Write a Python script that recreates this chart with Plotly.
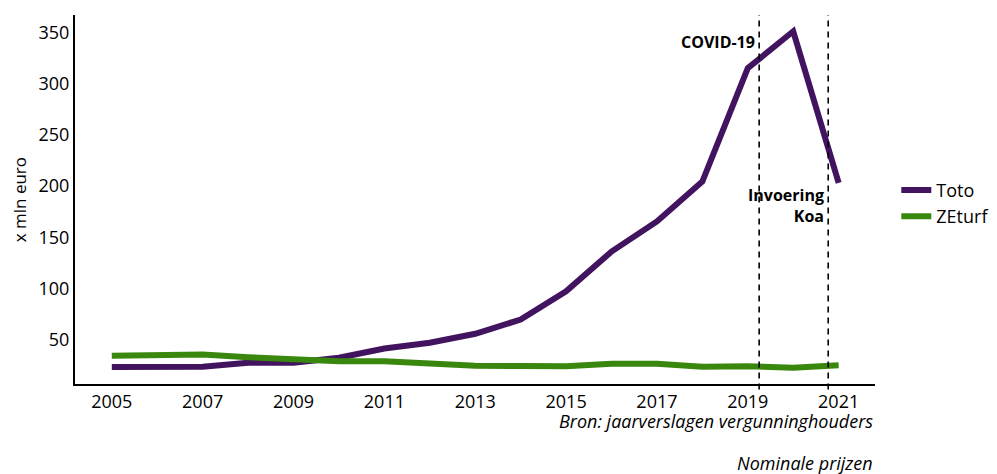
import plotly.graph_objects as go

years = list(range(2005, 2022))
toto = [23.3, 24, 23.6, 27.5, 27.5, 32.4, 41.5, 47, 55.8, 69.7, 97.3, 136, 165.4, 204.4, 315, 351, 203]
zeturf = [34.4, 35, 35.6, 33, 30.8, 29.1, 29, 26.6, 24.6, 24.3, 24.2, 26.6, 26.6, 23.6, 24, 22.7, 25.2]
event_x = [2019.25, 2020.77]
yticks = [50, 100, 150, 200, 250, 300, 350]
xticks = [2005, 2007, 2009, 2011, 2013, 2015, 2017, 2019, 2021]

FONT = "Open Sans"
fig = go.Figure()
fig.add_trace(go.Scatter(x=years, y=toto, mode="lines", name="Toto",
                         line=dict(color="#42145f", width=6)))
fig.add_trace(go.Scatter(x=years, y=zeturf, mode="lines", name="ZEturf",
                         line=dict(color="#39870c", width=6)))

for ex in event_x:
    fig.add_shape(type="line", x0=ex, x1=ex, xref="x", yref="paper", y0=-0.015, y1=1,
                  line=dict(color="black", width=1.6, dash="6px,5px"))

fig.add_annotation(x=2019.2, y=341, xref="x", yref="y", text="<b>COVID-19</b>",
                   showarrow=False, xanchor="right", yanchor="middle",
                   font=dict(family=FONT, size=16, color="black"))
fig.add_annotation(x=2020.73, y=181, xref="x", yref="y", text="<b>Invoering</b><br><b>Koa</b>",
                   showarrow=False, xanchor="right", yanchor="middle", align="right",
                   font=dict(family=FONT, size=16, color="black"))
fig.add_annotation(x=1, y=-0.1, xref="paper", yref="paper",
                   text="<i>Bron: jaarverslagen vergunninghouders</i>",
                   showarrow=False, xanchor="right", yanchor="middle",
                   font=dict(family=FONT, size=18, color="black"))
fig.add_annotation(x=1, y=-0.214, xref="paper", yref="paper",
                   text="<i>Nominale prijzen</i>",
                   showarrow=False, xanchor="right", yanchor="middle",
                   font=dict(family=FONT, size=18, color="black"))
fig.add_annotation(x=-0.069, y=0.5, xref="paper", yref="paper", text="x mln euro",
                   textangle=-90, showarrow=False, xanchor="center", yanchor="middle",
                   font=dict(family=FONT, size=17, color="black"))

fig.update_layout(
    width=997, height=474,
    margin=dict(l=75, r=122, t=15, b=90, autoexpand=False),
    plot_bgcolor="white", paper_bgcolor="white",
    font=dict(family=FONT, size=18, color="black"),
    legend=dict(x=0.899, xref="container", xanchor="left", y=0.49, yanchor="middle",
                font=dict(family=FONT, size=18), tracegroupgap=0,
                itemwidth=30),
    xaxis=dict(range=[2004.19, 2021.8], tickmode="array", tickvals=xticks,
               showgrid=False, zeroline=False, showline=True, linecolor="black",
               linewidth=2, ticks=""),
    yaxis=dict(range=[6.8, 366.9], tickmode="array", tickvals=yticks,
               showgrid=False, zeroline=False, showline=True, linecolor="black",
               linewidth=2, ticks=""),
)
fig.write_html("out.html", config={"displayModeBar": False},
               post_script="document.body.style.margin='0';document.body.style.overflow='hidden';")
